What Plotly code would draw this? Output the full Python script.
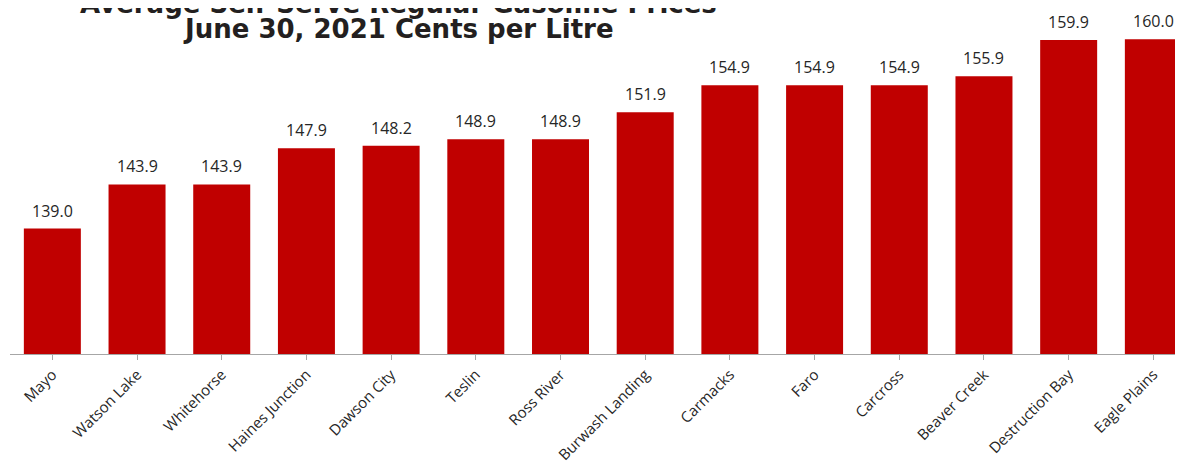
import plotly.graph_objects as go

communities = ["Mayo", "Watson Lake", "Whitehorse", "Haines Junction", "Dawson City", "Teslin",
               "Ross River", "Burwash Landing", "Carmacks", "Faro", "Carcross", "Beaver Creek",
               "Destruction Bay", "Eagle Plains"]
prices = [139.0, 143.9, 143.9, 147.9, 148.2, 148.9, 148.9, 151.9, 154.9, 154.9, 154.9, 155.9, 159.9, 160.0]
title_lines = ["Average Self-Serve Regular Gasoline Prices", "June 30, 2021 Cents per Litre"]

PLOT_H = 346  # plot area height in px (figure coords)
xs = list(range(len(communities)))

fig = go.Figure(go.Bar(
    x=xs, y=prices,
    marker=dict(color="#C00000", line=dict(width=0)),
    hoverinfo="x+y",
))

annotations = []
for x, p in zip(xs, prices):
    annotations.append(dict(x=x, y=p, xref="x", yref="y", text=f"{p:.1f}", showarrow=False,
                            xanchor="center", yanchor="bottom", yshift=5,
                            font=dict(family="Open Sans", size=16, color="#262626")))
annotations.append(dict(text=f"<b>{title_lines[0]}</b>", x=(390 - 2) / 1173, xref="paper",
                        y=1 + 4 / PLOT_H, yref="paper", xanchor="center", yanchor="middle",
                        showarrow=False, font=dict(family="DejaVu Sans", size=26, color="#231F20")))
annotations.append(dict(text=f"<b>{title_lines[1]}</b>", x=(390 - 2) / 1173, xref="paper",
                        y=1 - 20.5 / PLOT_H, yref="paper", xanchor="center", yanchor="middle",
                        showarrow=False, font=dict(family="DejaVu Sans", size=26, color="#231F20")))

fig.update_layout(
    width=1175, height=453,
    margin=dict(l=2, r=0, t=0, b=107, autoexpand=False),
    plot_bgcolor="white", paper_bgcolor="white",
    bargap=0.327, showlegend=False,
    xaxis=dict(tickmode="array", tickvals=xs, ticktext=communities,
               range=[-0.5, 13.35], tickangle=-45, showline=True, linecolor="#A6A6A6", linewidth=1,
               ticks="outside", tickcolor="#A6A6A6", ticklen=5, tickson="boundaries",
               tickfont=dict(family="Open Sans", size=15, color="#262626"), showgrid=False,
               automargin=False),
    yaxis=dict(range=[125.1, 125.1 + PLOT_H / 9.02], visible=False, showgrid=False, zeroline=False),
    annotations=annotations,
)
fig.write_html("out.html")
